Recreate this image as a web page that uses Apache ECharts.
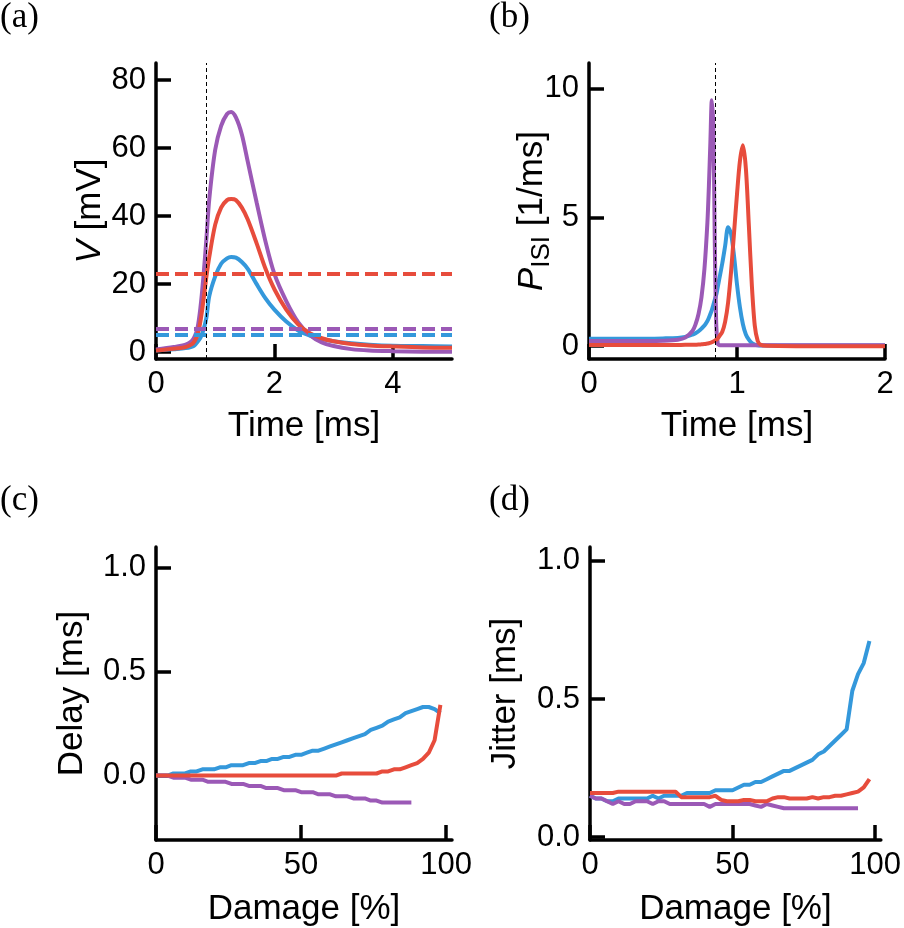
<!DOCTYPE html>
<html>
<head>
<meta charset="utf-8">
<script src="https://cdn.jsdelivr.net/npm/echarts@6.0.0/dist/echarts.min.js"></script>
<style>
html, body { margin: 0; padding: 0; background: #fff; }
#main { width: 904px; height: 928px; }
</style>
</head>
<body>
<div id="main"></div>
<script>
// colours: blue, red, purple (flat ui)
const colBlue = '#3498db';
const colRed = '#e74c3c';
const colPurple = '#9b59b6';
const font = '"Liberation Sans", Arial, sans-serif';

// (a) membrane potential
const timeA = [0, 0.3, 0.5, 0.6, 0.65, 0.7, 0.75, 0.8, 0.85, 0.9, 1.0, 1.1, 1.2, 1.27, 1.35, 1.45, 1.55, 1.7, 1.85, 2.0, 2.2, 2.4, 2.6, 2.8, 3.0, 3.3, 3.6, 4.0, 4.5, 5.0];
const voltBlue = [0.5, 0.9, 1.2, 1.6, 2.0, 3.0, 4.2, 6.5, 10, 16.5, 22.3, 26, 27.6, 28, 27.8, 26.5, 24.5, 20, 15.8, 12.5, 9, 6.4, 4.9, 3.9, 3.2, 2.6, 2.2, 1.9, 1.8, 1.7];
const voltRed = [0.5, 1.0, 1.5, 2.3, 3.2, 5, 9, 15, 22, 28, 37.5, 42.5, 44.7, 45, 44.7, 42.5, 39, 32, 24.5, 18.5, 12.5, 8.2, 5.6, 4.1, 3.2, 2.4, 2.0, 1.7, 1.4, 1.3];
const voltPurple = [0.8, 1.5, 2.2, 3.2, 4.5, 7, 13, 22, 33, 45, 59.5, 66.5, 70, 70.6, 69, 64, 56, 44, 32.5, 23, 15, 8.8, 5, 2.9, 1.8, 0.9, 0.5, 0.3, 0.15, 0.1];
const thresholds = [5.2, 23, 6.8]; // blue, red, purple
const spikeTime = 0.85;

// (b) ISI distribution
const timeB = [0, 0.2, 0.4, 0.5, 0.6, 0.65, 0.7, 0.72, 0.74, 0.76, 0.78, 0.8, 0.81, 0.82, 0.83, 0.84, 0.85, 0.86, 0.87, 0.88, 0.9, 0.92, 0.94, 0.96, 0.98, 1.0, 1.02, 1.04, 1.06, 1.08, 1.1, 1.12, 1.14, 1.16, 1.2, 1.4, 1.6, 1.8, 2.0];
const isiBlue = [0.29, 0.29, 0.29, 0.3, 0.32, 0.36, 0.45, 0.5, 0.58, 0.68, 0.8, 0.98, 1.1, 1.25, 1.4, 1.6, 1.8, 2.0, 2.3, 2.6, 3.2, 3.9, 4.62, 4.35, 3.5, 2.4, 1.5, 0.85, 0.45, 0.25, 0.12, 0.06, 0.03, 0.02, 0.02, 0.02, 0.02, 0.02, 0.02];
const isiRed = [0.04, 0.04, 0.04, 0.04, 0.045, 0.05, 0.05, 0.055, 0.06, 0.07, 0.08, 0.1, 0.11, 0.13, 0.15, 0.18, 0.21, 0.25, 0.3, 0.38, 0.55, 0.95, 1.7, 2.9, 4.4, 5.9, 7.2, 7.8, 6.9, 4.7, 2.4, 0.8, 0.2, 0.05, 0.01, 0, 0, 0, 0];
const isiPurple = [0.2, 0.2, 0.2, 0.21, 0.25, 0.33, 0.6, 0.85, 1.25, 1.9, 3.0, 4.8, 6.2, 7.9, 9.55, 8.5, 4.0, 0.8, 0.1, 0.04, 0.03, 0.03, 0.03, 0.03, 0.03, 0.03, 0.03, 0.03, 0.03, 0.03, 0.03, 0.03, 0.03, 0.03, 0.03, 0.03, 0.03, 0.03, 0.03];

// (c), (d) against damage
const damage = [0, 2, 4, 6, 8, 10, 12, 14, 16, 18, 20, 22, 24, 26, 28, 30, 32, 34, 36, 38, 40, 42, 44, 46, 48, 50, 52, 54, 56, 58, 60, 62, 64, 66, 68, 70, 72, 74, 76, 78, 80, 82, 84, 86, 88, 90, 92, 94, 96, 98];
const delayBlue = [0, 0, 0, 0.01, 0.01, 0.01, 0.02, 0.02, 0.03, 0.03, 0.03, 0.04, 0.04, 0.05, 0.05, 0.05, 0.06, 0.06, 0.07, 0.07, 0.08, 0.08, 0.09, 0.09, 0.10, 0.10, 0.11, 0.12, 0.12, 0.13, 0.14, 0.15, 0.16, 0.17, 0.18, 0.19, 0.20, 0.22, 0.23, 0.24, 0.26, 0.27, 0.28, 0.30, 0.31, 0.32, 0.33, 0.33, 0.32, 0.30];
const delayRed = [0, 0, 0, 0, 0, 0, 0, 0, 0, 0, 0, 0, 0, 0, 0, 0, 0, 0, 0, 0, 0, 0, 0, 0, 0, 0, 0, 0, 0, 0, 0, 0, 0.01, 0.01, 0.01, 0.01, 0.01, 0.01, 0.01, 0.02, 0.02, 0.03, 0.03, 0.04, 0.05, 0.06, 0.08, 0.11, 0.17, 0.34];
const delayPurple = [0, 0, 0, -0.01, -0.01, -0.01, -0.02, -0.02, -0.02, -0.03, -0.03, -0.03, -0.03, -0.04, -0.04, -0.04, -0.05, -0.05, -0.05, -0.06, -0.06, -0.06, -0.07, -0.07, -0.07, -0.08, -0.08, -0.08, -0.09, -0.09, -0.09, -0.10, -0.10, -0.10, -0.11, -0.11, -0.11, -0.12, -0.12, -0.13, -0.13, -0.13, -0.13, -0.13, -0.13, null, null, null, null, null];
const jitterBlue = [0.15, 0.14, 0.14, 0.13, 0.13, 0.14, 0.14, 0.14, 0.14, 0.14, 0.14, 0.15, 0.14, 0.15, 0.15, 0.15, 0.15, 0.16, 0.16, 0.16, 0.16, 0.16, 0.17, 0.17, 0.17, 0.17, 0.18, 0.19, 0.19, 0.20, 0.20, 0.21, 0.22, 0.23, 0.24, 0.24, 0.25, 0.26, 0.27, 0.28, 0.30, 0.31, 0.33, 0.35, 0.37, 0.39, 0.53, 0.59, 0.63, 0.71];
const jitterRed = [0.16, 0.16, 0.16, 0.16, 0.16, 0.165, 0.165, 0.165, 0.165, 0.165, 0.165, 0.165, 0.165, 0.165, 0.165, 0.165, 0.145, 0.145, 0.145, 0.145, 0.145, 0.145, 0.15, 0.135, 0.13, 0.13, 0.13, 0.135, 0.135, 0.13, 0.13, 0.13, 0.14, 0.145, 0.145, 0.14, 0.14, 0.14, 0.14, 0.145, 0.14, 0.145, 0.145, 0.15, 0.15, 0.155, 0.16, 0.165, 0.18, 0.21];
const jitterPurple = [0.15, 0.14, 0.14, 0.13, 0.12, 0.13, 0.12, 0.12, 0.13, 0.13, 0.13, 0.12, 0.13, 0.13, 0.12, 0.12, 0.12, 0.12, 0.12, 0.12, 0.12, 0.11, 0.12, 0.12, 0.12, 0.12, 0.12, 0.12, 0.12, 0.115, 0.11, 0.12, 0.115, 0.11, 0.105, 0.105, 0.105, 0.105, 0.105, 0.105, 0.105, 0.105, 0.105, 0.105, 0.105, 0.105, 0.105, 0.105, null, null];

let myChart = echarts.init(document.getElementById('main'));

function pairs(xs, ys) {
    return xs.map(function (x, i) { return ys[i] == null ? null : [x, ys[i]]; })
             .filter(function (p) { return p; });
}

function axisCommon(gi, min, max, ticks, fmt) {
    return {
        type: 'value', gridIndex: gi, min: min, max: max,
        nameLocation: 'middle', nameMoveOverlap: false,
        nameTextStyle: { fontFamily: font, fontSize: 35, color: '#000' },
        axisLine: { onZero: false, lineStyle: { color: '#000', width: 3.5 } },
        axisTick: { inside: true, length: 15, customValues: ticks, lineStyle: { color: '#000', width: 3.5 } },
        axisLabel: { customValues: ticks, fontFamily: font, fontSize: 31, color: '#000', margin: 10, formatter: fmt },
        splitLine: { show: false }
    };
}

function line(gi, xs, ys, color, smooth) {
    return {
        type: 'line', xAxisIndex: gi, yAxisIndex: gi,
        data: pairs(xs, ys), symbol: 'none', smooth: smooth,
        lineStyle: { color: color, width: 4 }, itemStyle: { color: color },
        animation: false
    };
}

function thrLine(value, color) {
    return { yAxis: value, lineStyle: { color: color, width: 4, type: [13, 6] } };
}

let one = function (v) { return v.toFixed(1); };

let sA = [line(0, timeA, voltBlue, colBlue, 0.3), line(0, timeA, voltPurple, colPurple, 0.3), line(0, timeA, voltRed, colRed, 0.3)];
sA[2].markLine = {
    silent: true, symbol: 'none', label: { show: false }, animation: false,
    data: [thrLine(thresholds[0], colBlue), thrLine(thresholds[2], colPurple), thrLine(thresholds[1], colRed),
           { xAxis: spikeTime, lineStyle: { color: '#000', width: 1, type: [4, 3] } }]
};
let sB = [line(1, timeB, isiBlue, colBlue, 0.3), line(1, timeB, isiPurple, colPurple, 0.3), line(1, timeB, isiRed, colRed, 0.3)];
sB[2].markLine = {
    silent: true, symbol: 'none', label: { show: false }, animation: false,
    data: [{ xAxis: spikeTime, lineStyle: { color: '#000', width: 1, type: [4, 3] } }]
};
let sC = [line(2, damage, delayBlue, colBlue, false), line(2, damage, delayPurple, colPurple, false), line(2, damage, delayRed, colRed, false)];
let sD = [line(3, damage, jitterBlue, colBlue, false), line(3, damage, jitterPurple, colPurple, false), line(3, damage, jitterRed, colRed, false)];

let xa = [
    Object.assign(axisCommon(0, 0, 5, [0, 2, 4]), { name: 'Time [ms]', nameGap: 50 }),
    Object.assign(axisCommon(1, 0, 2, [0, 1, 2]), { name: 'Time [ms]', nameGap: 50 }),
    Object.assign(axisCommon(2, 0, 102, [0, 50, 100]), { name: 'Damage [%]', nameGap: 52 }),
    Object.assign(axisCommon(3, 0, 102, [0, 50, 100]), { name: 'Damage [%]', nameGap: 52 })
];
let ya = [
    Object.assign(axisCommon(0, -2, 85, [0, 20, 40, 60, 80]), { name: '{i|V} [mV]', nameGap: 48 }),
    Object.assign(axisCommon(1, -0.5, 11, [0, 5, 10]), { name: '{i|P}{s|ISI} [1/ms]', nameGap: 34 }),
    Object.assign(axisCommon(2, -0.31, 1.1, [0, 0.5, 1], one), { name: 'Delay [ms]', nameGap: 66 }),
    Object.assign(axisCommon(3, -0.01, 1.05, [0, 0.5, 1], one), { name: 'Jitter [ms]', nameGap: 67 })
];
ya[0].nameTextStyle.rich = { i: { fontFamily: font, fontSize: 35, fontStyle: 'italic', color: '#000' } };
ya[1].nameTextStyle.rich = {
    i: { fontFamily: font, fontSize: 35, fontStyle: 'italic', color: '#000' },
    s: { fontFamily: font, fontSize: 26, color: '#000', padding: [20, 0, 0, 0] }
};

let panelFont = '35px "Liberation Serif", "DejaVu Serif", serif';

option = {
    backgroundColor: '#fff',
    animation: false,
    grid: [
        { left: 156, top: 63, width: 296, height: 296 },
        { left: 589, top: 63, width: 296, height: 296 },
        { left: 156, top: 547, width: 296, height: 296 },
        { left: 590, top: 547, width: 296, height: 296 }
    ],
    xAxis: xa,
    yAxis: ya,
    graphic: [
        { type: 'text', left: 0, top: 0, style: { text: '(a)', font: panelFont, fill: '#000' } },
        { type: 'text', left: 489, top: 0, style: { text: '(b)', font: panelFont, fill: '#000' } },
        { type: 'text', left: 0, top: 483, style: { text: '(c)', font: panelFont, fill: '#000' } },
        { type: 'text', left: 489, top: 483, style: { text: '(d)', font: panelFont, fill: '#000' } }
    ],
    series: sA.concat(sB, sC, sD)
};

myChart.setOption(option);
</script>
</body>
</html>
